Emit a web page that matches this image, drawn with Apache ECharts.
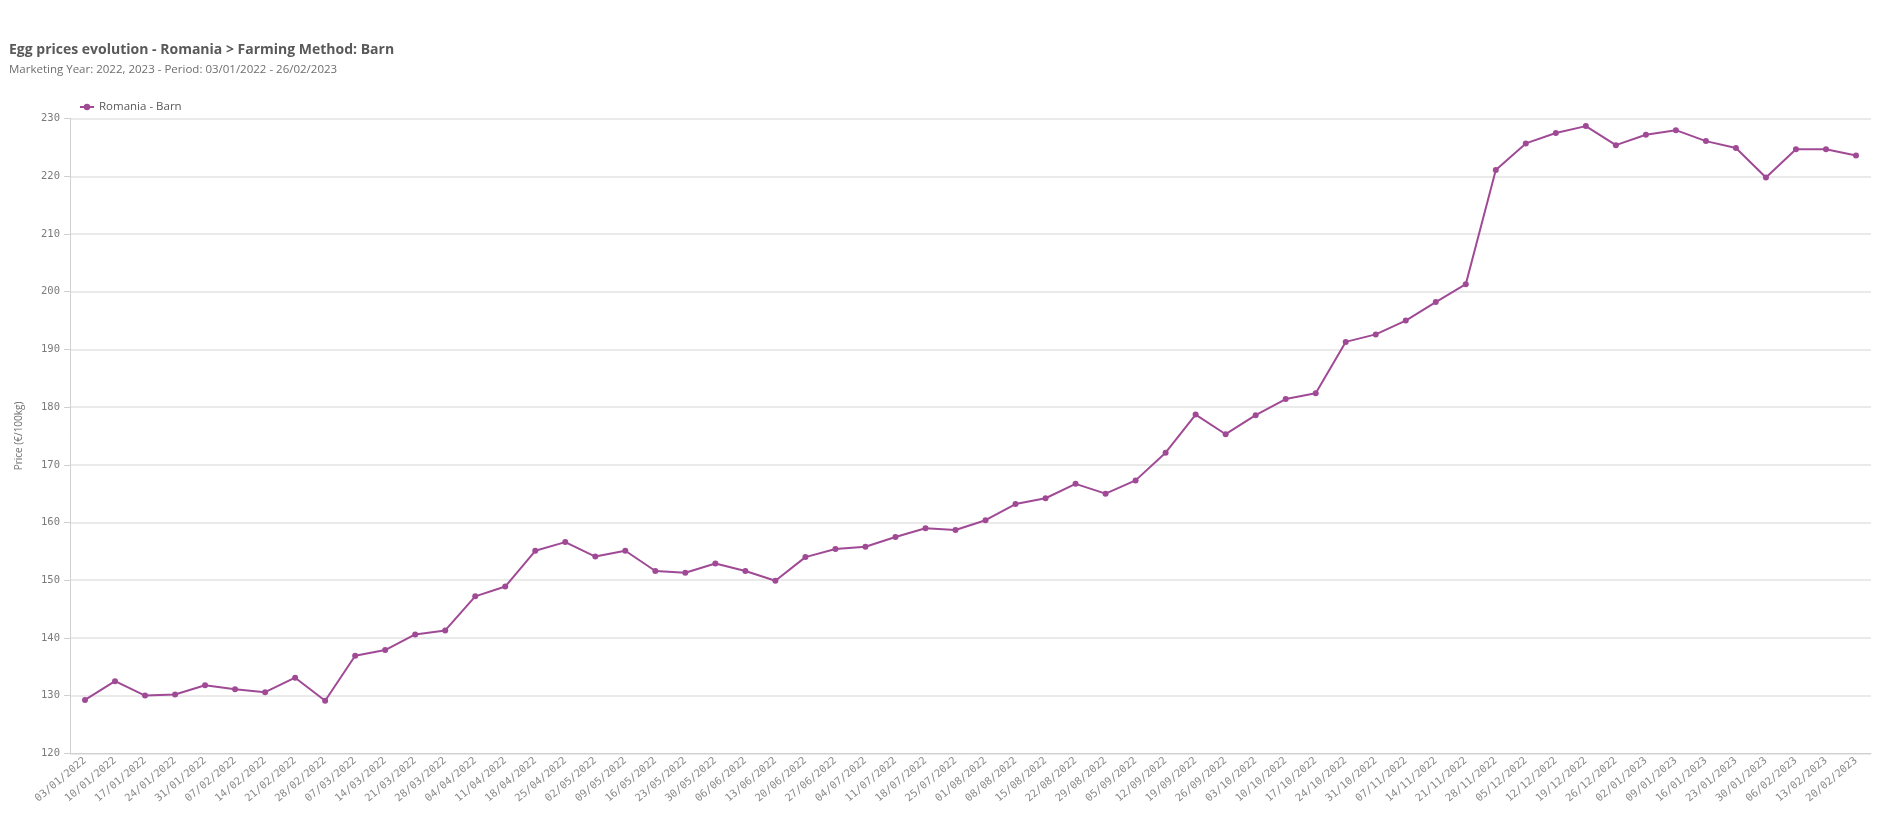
<!DOCTYPE html>
<html>
<head>
<meta charset="utf-8">
<style>
html,body{margin:0;padding:0;background:#fff;}
#chart{width:1895px;height:822px;}
</style>
<script src="https://cdn.jsdelivr.net/npm/echarts@6/dist/echarts.min.js"></script>
</head>
<body>
<div id="chart"></div>
<script>
const titleText = 'Egg prices evolution - Romania > Farming Method: Barn';
const subtitleText = 'Marketing Year: 2022, 2023 - Period: 03/01/2022 - 26/02/2023';
const seriesName = 'Romania - Barn';
const yAxisName = 'Price (€/100kg)';

const categories = [
 '03/01/2022','10/01/2022','17/01/2022','24/01/2022','31/01/2022','07/02/2022','14/02/2022','21/02/2022','28/02/2022',
 '07/03/2022','14/03/2022','21/03/2022','28/03/2022','04/04/2022','11/04/2022','18/04/2022','25/04/2022',
 '02/05/2022','09/05/2022','16/05/2022','23/05/2022','30/05/2022','06/06/2022','13/06/2022','20/06/2022','27/06/2022',
 '04/07/2022','11/07/2022','18/07/2022','25/07/2022','01/08/2022','08/08/2022','15/08/2022','22/08/2022','29/08/2022',
 '05/09/2022','12/09/2022','19/09/2022','26/09/2022','03/10/2022','10/10/2022','17/10/2022','24/10/2022','31/10/2022',
 '07/11/2022','14/11/2022','21/11/2022','28/11/2022','05/12/2022','12/12/2022','19/12/2022','26/12/2022',
 '02/01/2023','09/01/2023','16/01/2023','23/01/2023','30/01/2023','06/02/2023','13/02/2023','20/02/2023'
];

const prices = [
 129.25,132.5,130.0,130.2,131.8,131.1,130.6,133.1,129.1,
 136.9,137.9,140.6,141.3,147.2,148.9,155.1,156.6,
 154.1,155.1,151.6,151.3,152.9,151.6,149.9,154.0,155.4,
 155.8,157.5,159.0,158.7,160.4,163.2,164.2,166.7,165.0,
 167.3,172.1,178.7,175.3,178.6,181.4,182.4,191.3,192.6,
 195.0,198.2,201.3,221.1,225.7,227.5,228.7,225.4,
 227.2,228.0,226.1,224.9,219.8,224.7,224.7,223.6
];

const yMin = 120, yMax = 230, yStep = 10;

const chart = echarts.init(document.getElementById('chart'));
const monoFont = '"DejaVu Sans Mono", "Liberation Mono", monospace';
const sansFont = '"Open Sans", Lato, "Noto Sans", sans-serif';
chart.setOption({
  animation: false,
  backgroundColor: '#ffffff',
  title: {
    text: titleText,
    subtext: subtitleText,
    left: 4,
    top: 38,
    itemGap: 7,
    textStyle: {fontFamily: sansFont, fontSize: 14, fontWeight: 'bold', color: '#595959'},
    subtextStyle: {fontFamily: sansFont, fontSize: 11.5, color: '#6e6e6e'}
  },
  legend: {
    left: 74,
    top: 96,
    itemWidth: 14,
    itemHeight: 8,
    textStyle: {fontFamily: sansFont, fontSize: 11.5, color: '#595959'},
    data: [seriesName]
  },
  grid: {left: 70, right: 24, top: 118.6, bottom: 68.7, containLabel: false},
  xAxis: {
    type: 'category',
    data: categories,
    boundaryGap: true,
    axisLine: {lineStyle: {color: '#d0d0d0', width: 1}},
    axisTick: {show: false},
    axisLabel: {
      rotate: 40,
      interval: 0,
      fontFamily: monoFont,
      fontSize: 10.5,
      color: '#8a8a8a',
      margin: 6
    }
  },
  yAxis: {
    type: 'value',
    min: yMin,
    max: yMax,
    interval: yStep,
    name: yAxisName,
    nameLocation: 'middle',
    nameGap: 46,
    nameTextStyle: {fontFamily: sansFont, fontSize: 10, color: '#707070'},
    axisLine: {show: true, lineStyle: {color: '#d0d0d0'}},
    axisTick: {show: true, length: 6, lineStyle: {color: '#d0d0d0'}},
    axisLabel: {fontFamily: monoFont, fontSize: 10.5, color: '#7a7a7a', margin: 10},
    splitLine: {lineStyle: {color: '#e3e3e3', width: 1.5}}
  },
  series: [{
    name: seriesName,
    type: 'line',
    data: prices,
    symbol: 'circle',
    symbolSize: 6,
    showSymbol: true,
    lineStyle: {color: '#a04a96', width: 2},
    itemStyle: {color: '#a04a96'}
  }]
});
</script>
</body>
</html>
